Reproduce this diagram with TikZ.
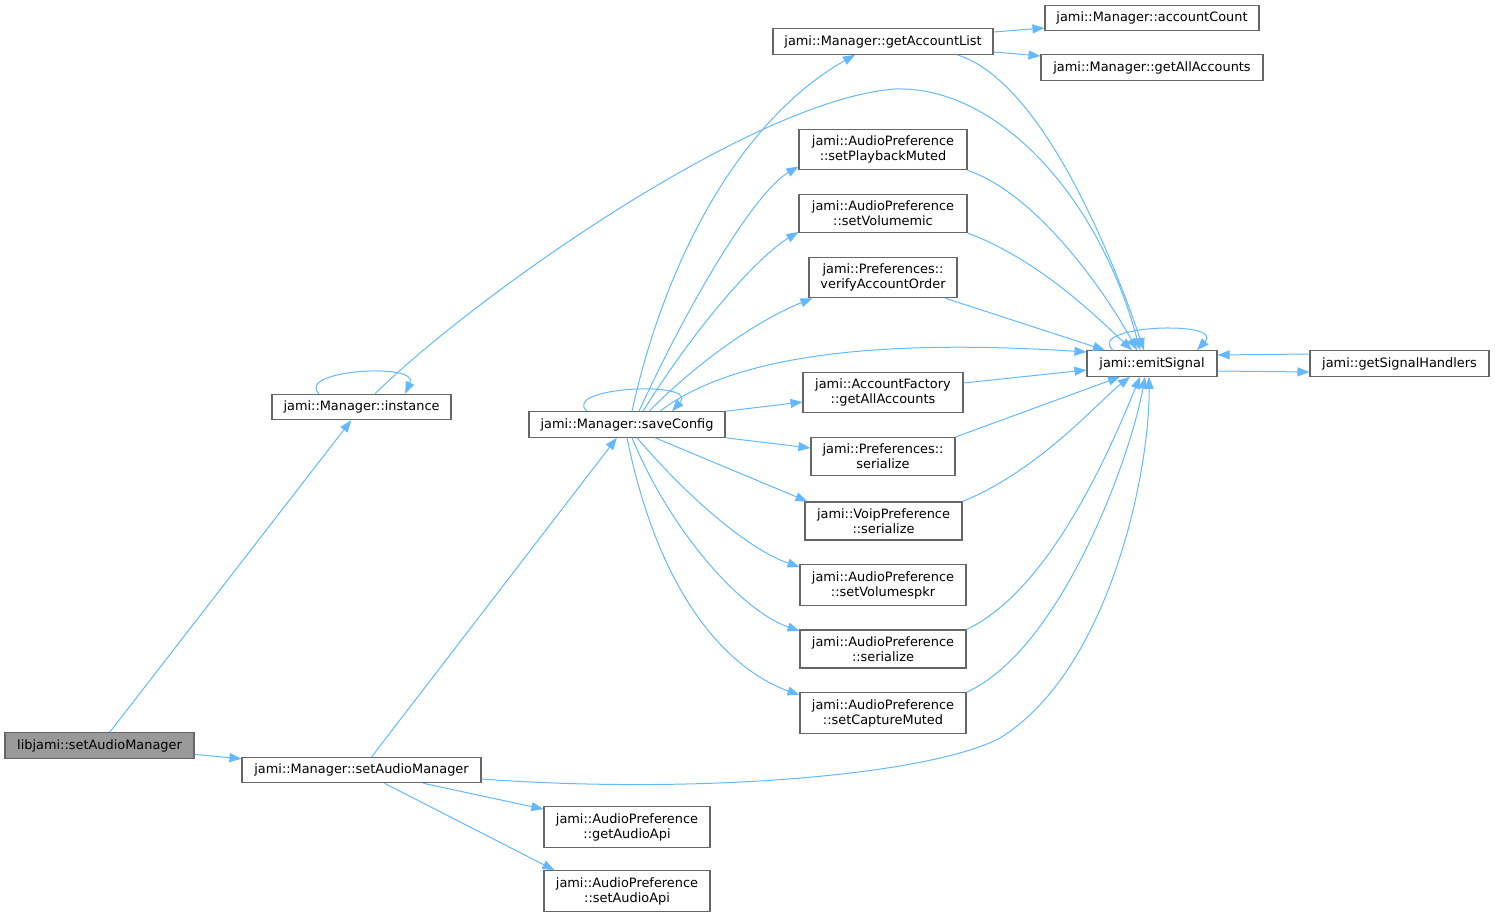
\documentclass[tikz,border=0pt]{standalone}
\usepackage{fontspec}
\setmainfont{DejaVu Sans}
\usetikzlibrary{arrows.meta}
\definecolor{edgeblue}{HTML}{63B8FF}
\definecolor{boxgray}{HTML}{666666}
\definecolor{rootgray}{HTML}{999999}
\begin{document}
\begin{tikzpicture}[x=1pt, y=-1pt,
	fn/.style={draw=boxgray, line width=1.1pt, fill=white, rectangle, align=center,
		minimum height=25pt, inner xsep=6pt, inner ysep=6.5pt,
		font=\fontsize{12.9}{15}\selectfont},
	fnroot/.style={fn, fill=rootgray},
	call/.style={draw=edgeblue, line width=1pt, -{Triangle[length=12pt,width=9pt]}}]
	\useasboundingbox (0,0) rectangle (1495,917);

	\node [fnroot, minimum width=189pt] (libSet) at (99.5,745.5) {libjami::setAudioManager};
	\node [fn, minimum width=179pt] (inst) at (361.5,407) {jami::Manager::instance};
	\node [fn, minimum width=239pt] (mgrSet) at (361.5,770) {jami::Manager::setAudioManager};
	\node [fn, minimum width=196pt] (save) at (627,424.5) {jami::Manager::saveConfig};
	\node [fn, minimum width=220pt] (accList) at (883,41.5) {jami::Manager::getAccountList};
	\node [fn, minimum width=168pt] (playMuted) at (883,149.5) {jami::AudioPreference\\::setPlaybackMuted};
	\node [fn, minimum width=168pt] (volMic) at (883,213.5) {jami::AudioPreference\\::setVolumemic};
	\node [fn, minimum width=148pt] (verify) at (883,277.5) {jami::Preferences::\\verifyAccountOrder};
	\node [fn, minimum width=160pt] (factAll) at (883,392.5) {jami::AccountFactory\\::getAllAccounts};
	\node [fn, minimum width=144pt] (prefSer) at (883,456.5) {jami::Preferences::\\serialize};
	\node [fn, minimum width=157pt] (voipSer) at (883.5,521) {jami::VoipPreference\\::serialize};
	\node [fn, minimum width=166pt] (volSpkr) at (883,585) {jami::AudioPreference\\::setVolumespkr};
	\node [fn, minimum width=166pt] (audioSer) at (883,649) {jami::AudioPreference\\::serialize};
	\node [fn, minimum width=166pt] (capMuted) at (883,713) {jami::AudioPreference\\::setCaptureMuted};
	\node [fn, minimum width=166pt] (getApi) at (627,827) {jami::AudioPreference\\::getAudioApi};
	\node [fn, minimum width=166pt] (setApi) at (627,891) {jami::AudioPreference\\::setAudioApi};
	\node [fn, minimum width=130pt] (emit) at (1152,363.5) {jami::emitSignal};
	\node [fn, minimum width=179pt] (handlers) at (1399.5,363.5) {jami::getSignalHandlers};
	\node [fn, minimum width=214pt] (accCount) at (1152,18) {jami::Manager::accountCount};
	\node [fn, minimum width=222pt] (mgrAll) at (1152,67.5) {jami::Manager::getAllAccounts};

	\draw
		[call] (libSet) -- (inst);
	\draw
		[call] (libSet) -- (mgrSet);

	\draw
		[call] ([xshift=-42.5pt]inst.north) .. controls (295,370) and (420,362) .. ([xshift=43.5pt]inst.north);
	\draw
		[call] ([xshift=13.5pt]inst.north) .. controls (470,300) and (750,100) .. (895,89)
		.. controls (1000,86) and (1100,200) .. ([xshift=-12pt]emit.north);

	\draw
		[call] (mgrSet) -- (save);
	\draw
		[call] (mgrSet) -- (getApi);
	\draw
		[call] ([xshift=23pt]mgrSet.south) -- ([xshift=11pt]setApi.north west);
	\draw
		[call] ([yshift=-9pt]mgrSet.east) .. controls (700,795) and (930,775) .. (1000,738)
		.. controls (1110,670) and (1150,470) .. ([xshift=-3pt]emit.south);

	\draw
		[call] ([xshift=-40pt]save.north) .. controls (560,387) and (700,380) .. ([xshift=45pt]save.north);
	\draw
		[call] ([xshift=5pt]save.north) .. controls (665,260) and (740,120) .. ([xshift=-28pt]accList.south);
	\draw
		[call] ([xshift=12pt]save.north) .. controls (690,300) and (755,192) .. ([yshift=-17pt]playMuted.west);
	\draw
		[call] ([xshift=16pt]save.north) .. controls (700,320) and (760,255) .. ([yshift=-18.5pt]volMic.west);
	\draw
		[call] ([xshift=22pt]save.north) .. controls (710,350) and (770,315) .. ([xshift=4pt]verify.south west);
	\draw
		[call] ([xshift=33pt]save.north) .. controls (740,350) and (900,340) .. ([yshift=11.5pt]emit.west);
	\draw
		[call] (save.north east) -- ([yshift=-9.5pt]factAll.west);
	\draw
		[call] (save.south east) -- ([yshift=8.5pt]prefSer.west);
	\draw
		[call] ([xshift=28pt]save.south) -- ([xshift=3pt]voipSer.north west);
	\draw
		[call] ([xshift=10pt]save.south) .. controls (690,500) and (750,550) .. ([yshift=18pt]volSpkr.west);
	\draw
		[call] ([xshift=5pt]save.south) .. controls (670,530) and (740,610) .. ([yshift=18pt]audioSer.west);
	\draw
		[call] (save.south) .. controls (660,600) and (730,670) .. ([yshift=18pt]capMuted.west);

	\draw
		[call] ([yshift=9.5pt]accList.east) -- ([yshift=-10pt]accCount.west);
	\draw
		[call] ([yshift=-10.5pt]accList.east) -- ([yshift=11.5pt]mgrAll.west);
	\draw
		[call] ([xshift=74pt]accList.south) .. controls (1040,80) and (1110,250) .. ([xshift=-8pt]emit.north);
	\draw
		[call] (playMuted.south east) .. controls (1040,195) and (1110,300) .. ([xshift=-15pt]emit.north);
	\draw
		[call] (volMic.south east) .. controls (1040,260) and (1100,320) .. ([xshift=-20pt]emit.north);
	\draw
		[call] ([xshift=-12pt]verify.south east) -- ([xshift=-47pt]emit.north);
	\draw
		[call] ([yshift=9.5pt]factAll.east) -- ([yshift=-6.5pt]emit.west);
	\draw
		[call] (prefSer.north east) -- ([xshift=-32pt]emit.south);
	\draw
		[call] (voipSer.north east) .. controls (1040,470) and (1100,400) .. ([xshift=-22pt]emit.south);
	\draw
		[call] (audioSer.north east) .. controls (1050,590) and (1110,450) .. ([xshift=-12pt]emit.south);
	\draw
		[call] (capMuted.north east) .. controls (1060,650) and (1130,460) .. ([xshift=-7pt]emit.south);

	\draw
		[call] ([xshift=-39pt]emit.north) .. controls (1085,325) and (1225,320) .. ([xshift=45pt]emit.north);
	\draw
		[call] ([yshift=-7.5pt]emit.east) -- ([yshift=-8.5pt]handlers.west);
	\draw
		[call] ([yshift=9.5pt]handlers.west) -- ([yshift=8.5pt]emit.east);
\end{tikzpicture}
\end{document}
